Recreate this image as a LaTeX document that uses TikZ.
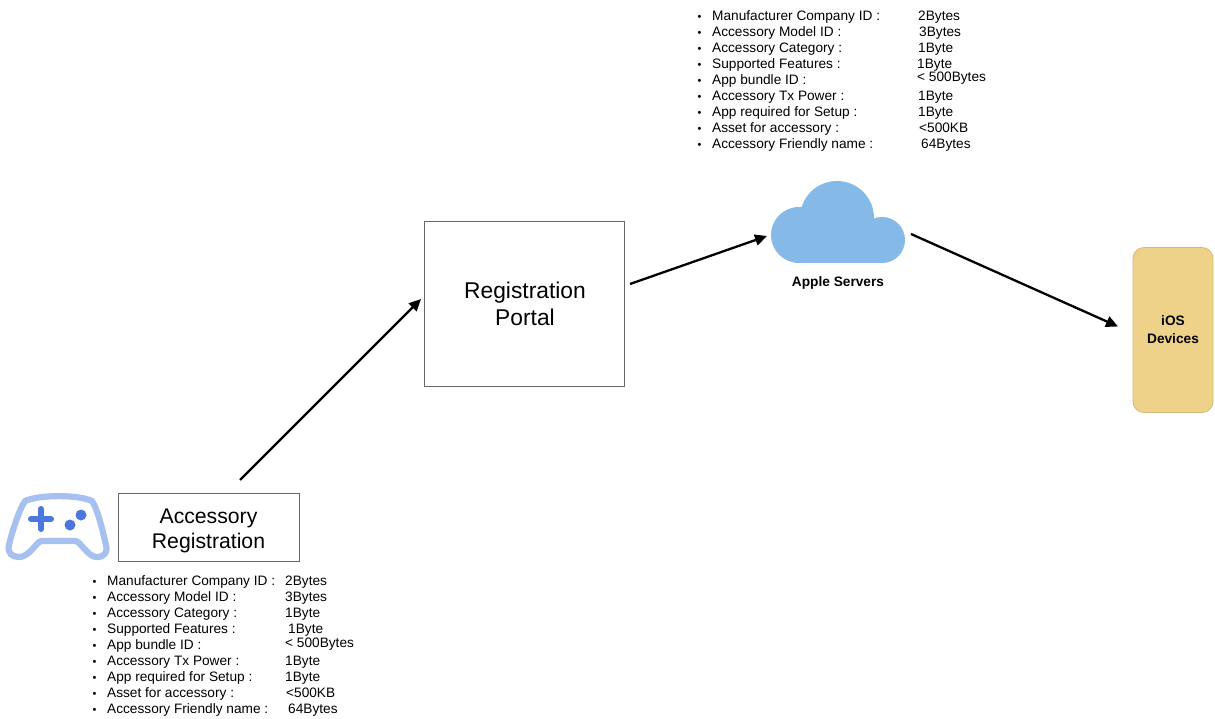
\documentclass[tikz,border=0pt]{standalone}
\usepackage{fontspec}
\setmainfont{Liberation Sans}
\usetikzlibrary{arrows.meta}
\definecolor{padblue}{HTML}{A6C1F0}
\definecolor{padmark}{HTML}{4A78E0}
\definecolor{cloudblue}{HTML}{84B9E8}
\definecolor{iosfill}{HTML}{EFD28A}
\definecolor{iosline}{HTML}{D9B877}
\definecolor{boxline}{HTML}{666666}
\tikzset{
  x=1pt,y=-1pt,
  flow/.style={draw=black,line width=2.3pt,-{Triangle[length=12pt,width=11pt]}},
  titlebox/.style={draw=boxline,line width=0.8pt,fill=white,anchor=north west,inner sep=0pt},
  titletext/.style={align=center,inner sep=0pt},
  item/.style={anchor=base west,inner sep=0pt,font=\fontsize{13.67}{16}\selectfont},
  dot/.style={anchor=base west,inner sep=0pt,font=\fontsize{11}{11}\selectfont},
  blabel/.style={align=center,font=\fontsize{13.7}{18}\selectfont\bfseries,inner sep=0pt},
}
\begin{document}
\begin{tikzpicture}
\useasboundingbox (0,0) rectangle (1215,719);
% boxes
\node[titlebox,minimum width=181pt,minimum height=68pt] (acc) at (118,493) {};
\node[titletext,font=\fontsize{21.2}{25}\selectfont] (acctext) at (208.5,531) {Accessory\\Registration};
\node[titlebox,minimum width=200pt,minimum height=165pt] (portal) at (424.3,220.7) {};
\node[titletext,font=\fontsize{22.8}{27}\selectfont] (porttext) at (525,304) {Registration\\Portal};
\node[draw=iosline,fill=iosfill,line width=0.8pt,rounded corners=11pt,minimum width=80pt,minimum height=165pt,inner sep=0pt,align=center,font=\fontsize{13.7}{18}\selectfont\bfseries] (ios) at (1173,330) {iOS\\Devices};
% cloud
\fill[cloudblue] (837,218) circle (37);
\fill[cloudblue] (799,235) circle (28);
\fill[cloudblue] (882,240) circle (23);
\fill[cloudblue] (799,225) rectangle (882,263);
\node[blabel] (srv) at (838,283) {Apple Servers};
% pad
\draw[padblue,line width=6.2pt,line join=round] (25,501) .. controls (40,494.5) and (78,494.5) .. (92,501) .. controls (98,510) and (103,532) .. (106,545) .. controls (108,553) and (104,557) .. (97,557) .. controls (90,557) and (84,548) .. (79,543) .. controls (77,541) and (76,541) .. (74,541) -- (43,541) .. controls (41,541) and (40,541) .. (38,543) .. controls (33,548) and (27,557) .. (19,557) .. controls (12,557) and (7,553) .. (9,545) .. controls (12,532) and (19,510) .. (25,501) -- cycle;
\draw[padmark,line width=6pt,line cap=round] (31,519) -- (51,519);
\draw[padmark,line width=6pt,line cap=round] (41,509) -- (41,529);
\fill[padmark] (70,525) circle (5.5);
\fill[padmark] (81,515) circle (5.5);
% lists
\foreach \y/\k/\vx/\v/\vy in {
 581/Manufacturer Company ID :/285/2Bytes/581,
 597/Accessory Model ID :/285/3Bytes/597,
 613/Accessory Category :/285/1Byte/613,
 629/Supported Features :/288/1Byte/629,
 645/App bundle ID :/285/< 500Bytes/643,
 661/Accessory Tx Power :/285/1Byte/661,
 677/App required for Setup :/285/1Byte/677,
 693/Asset for accessory :/286/<500KB/693,
 709/Accessory Friendly name :/288/64Bytes/709}{
 \node[dot] at (92.5,\y+4.5) {•};
 \node[item] at (107,\y+4.5) {\k};
 \node[item] at (\vx,\vy+4.5) {\v};
}
\foreach \y/\k/\vx/\v/\vy in {
 16/Manufacturer Company ID :/918/2Bytes/16,
 32/Accessory Model ID :/919/3Bytes/32,
 48/Accessory Category :/918/1Byte/48,
 64/Supported Features :/917/1Byte/64,
 80/App bundle ID :/917/< 500Bytes/77,
 96/Accessory Tx Power :/918/1Byte/96,
 112/App required for Setup :/918/1Byte/112,
 128/Asset for accessory :/919/<500KB/128,
 144/Accessory Friendly name :/921/64Bytes/144}{
 \node[dot] at (697.5,\y+4.7) {•};
 \node[item] at (712,\y+4.7) {\k};
 \node[item] at (\vx,\vy+4.7) {\v};
}
% connectors
\coordinate (a1) at (240,480);
\coordinate (a2) at (421,299);
\coordinate (b1) at (630,284);
\coordinate (b2) at (767,236);
\coordinate (c1) at (911,234);
\coordinate (c2) at (1118,326.5);
\draw[flow] (a1) -- (a2);
\draw[flow] (b1) -- (b2);
\draw[flow] (c1) -- (c2);
\end{tikzpicture}
\end{document}
